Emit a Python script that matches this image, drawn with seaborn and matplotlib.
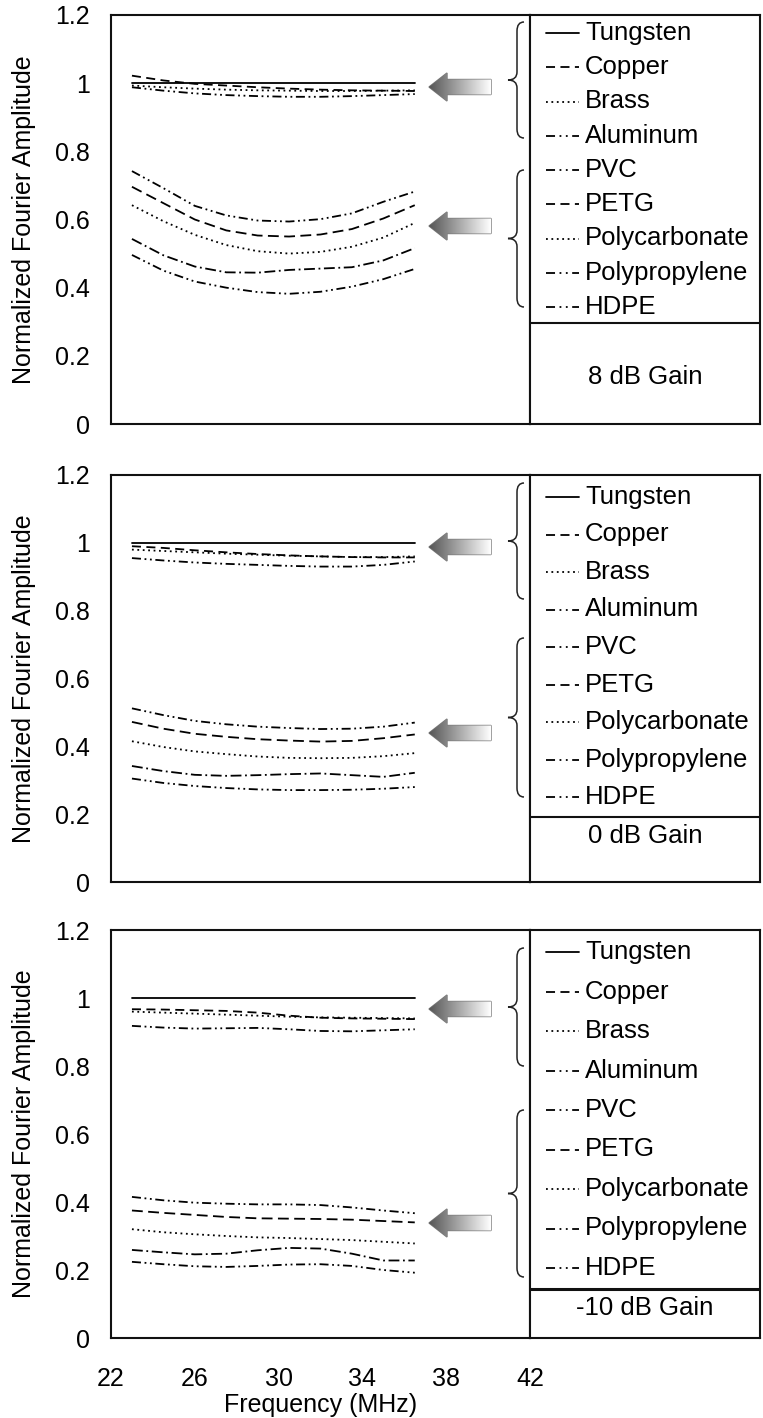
import numpy as np
import pandas as pd
import matplotlib
matplotlib.use("Agg")
import matplotlib.pyplot as plt
import seaborn as sns
from matplotlib.path import Path
from matplotlib.patches import PathPatch, Polygon
from matplotlib.colors import LinearSegmentedColormap
from matplotlib.ticker import MultipleLocator, FixedLocator

# ---------------------------------------------------------------- data
freq_mhz = [23.0, 24.5, 26.0, 27.5, 29.0, 30.5, 32.0, 33.5, 35.0, 36.5]

materials = ["Tungsten", "Copper", "Brass", "Aluminum", "PVC", "PETG",
             "Polycarbonate", "Polypropylene", "HDPE"]

gain_labels = ["8 dB Gain", "0 dB Gain", "-10 dB Gain"]

# 8 dB gain
g8_tungsten = [1.000, 1.000, 1.000, 1.000, 1.000, 1.000, 1.000, 1.000, 1.000, 1.000]
g8_copper = [1.022, 1.008, 0.998, 0.993, 0.988, 0.984, 0.981, 0.979, 0.978, 0.977]
g8_brass = [0.993, 0.988, 0.984, 0.981, 0.979, 0.978, 0.977, 0.977, 0.978, 0.979]
g8_aluminum = [0.988, 0.978, 0.970, 0.965, 0.962, 0.960, 0.960, 0.962, 0.965, 0.968]
g8_pvc = [0.742, 0.692, 0.640, 0.612, 0.597, 0.594, 0.601, 0.618, 0.652, 0.682]
g8_petg = [0.696, 0.648, 0.600, 0.568, 0.553, 0.550, 0.556, 0.572, 0.603, 0.642]
g8_polycarbonate = [0.642, 0.595, 0.555, 0.525, 0.507, 0.500, 0.505, 0.520, 0.547, 0.590]
g8_polypropylene = [0.543, 0.495, 0.462, 0.445, 0.444, 0.452, 0.456, 0.460, 0.480, 0.516]
g8_hdpe = [0.496, 0.450, 0.418, 0.400, 0.387, 0.382, 0.388, 0.403, 0.425, 0.455]

# 0 dB gain
g0_tungsten = [1.000, 1.000, 1.000, 1.000, 1.000, 1.000, 1.000, 1.000, 1.000, 1.000]
g0_copper = [0.990, 0.985, 0.978, 0.972, 0.967, 0.963, 0.960, 0.958, 0.957, 0.957]
g0_brass = [0.980, 0.976, 0.972, 0.968, 0.965, 0.962, 0.960, 0.958, 0.958, 0.960]
g0_aluminum = [0.955, 0.948, 0.942, 0.938, 0.935, 0.932, 0.930, 0.930, 0.935, 0.945]
g0_pvc = [0.512, 0.492, 0.475, 0.465, 0.458, 0.454, 0.451, 0.452, 0.458, 0.470]
g0_petg = [0.472, 0.452, 0.437, 0.428, 0.421, 0.417, 0.414, 0.416, 0.424, 0.435]
g0_polycarbonate = [0.415, 0.398, 0.385, 0.377, 0.370, 0.366, 0.365, 0.366, 0.371, 0.380]
g0_polypropylene = [0.342, 0.327, 0.316, 0.313, 0.315, 0.318, 0.320, 0.315, 0.310, 0.322]
g0_hdpe = [0.305, 0.292, 0.283, 0.277, 0.273, 0.271, 0.271, 0.272, 0.275, 0.280]

# -10 dB gain
gm10_tungsten = [1.000, 1.000, 1.000, 1.000, 1.000, 1.000, 1.000, 1.000, 1.000, 1.000]
gm10_copper = [0.967, 0.966, 0.964, 0.962, 0.957, 0.948, 0.942, 0.940, 0.939, 0.938]
gm10_brass = [0.960, 0.957, 0.954, 0.951, 0.948, 0.945, 0.943, 0.942, 0.941, 0.940]
gm10_aluminum = [0.918, 0.913, 0.910, 0.911, 0.912, 0.908, 0.903, 0.902, 0.905, 0.908]
gm10_pvc = [0.415, 0.405, 0.398, 0.395, 0.393, 0.393, 0.391, 0.384, 0.375, 0.367]
gm10_petg = [0.375, 0.368, 0.362, 0.356, 0.352, 0.351, 0.350, 0.348, 0.344, 0.340]
gm10_polycarbonate = [0.320, 0.311, 0.305, 0.300, 0.296, 0.294, 0.291, 0.288, 0.283, 0.278]
gm10_polypropylene = [0.259, 0.252, 0.246, 0.248, 0.258, 0.265, 0.263, 0.248, 0.228, 0.228]
gm10_hdpe = [0.224, 0.217, 0.211, 0.209, 0.212, 0.216, 0.217, 0.212, 0.200, 0.192]

panels = [
    [g8_tungsten, g8_copper, g8_brass, g8_aluminum, g8_pvc, g8_petg,
     g8_polycarbonate, g8_polypropylene, g8_hdpe],
    [g0_tungsten, g0_copper, g0_brass, g0_aluminum, g0_pvc, g0_petg,
     g0_polycarbonate, g0_polypropylene, g0_hdpe],
    [gm10_tungsten, gm10_copper, gm10_brass, gm10_aluminum, gm10_pvc, gm10_petg,
     gm10_polycarbonate, gm10_polypropylene, gm10_hdpe],
]

x_ticks = [22, 26, 30, 34, 38, 42]
y_ticks = [0, 0.2, 0.4, 0.6, 0.8, 1.0, 1.2]
y_tick_labels = ["0", "0.2", "0.4", "0.6", "0.8", "1", "1.2"]

# ---------------------------------------------------------------- style
sns.set_theme(style="white")
plt.rcParams["font.family"] = ["Liberation Sans", "DejaVu Sans"]
plt.rcParams.update({
    "text.color": "black",
    "axes.labelcolor": "black",
    "xtick.color": "black",
    "ytick.color": "black",
    "axes.edgecolor": "black",
})
FS = 18
FS_LEG = 18.5

dash_styles = {
    "Tungsten": "",
    "Copper": (5, 3),
    "Brass": (1, 2),
    "Aluminum": (5, 2, 1, 2, 1, 2),
    "PVC": (5, 2, 1, 2, 1, 2),
    "PETG": (6, 3),
    "Polycarbonate": (1, 2),
    "Polypropylene": (6, 2, 1, 2),
    "HDPE": (5, 2, 1, 2, 1, 2),
}
legend_dash = {
    "Tungsten": (None, None),
    "Copper": (0, (5, 3)),
    "Brass": (0, (1, 2)),
    "Aluminum": (0, (5, 2.5, 1, 2.5, 1, 2.5)),
    "PVC": (0, (5, 2.5, 1, 2.5, 1, 2.5)),
    "PETG": (0, (5, 3)),
    "Polycarbonate": (0, (1, 2)),
    "Polypropylene": (0, (5, 2.5, 1, 2.5, 1, 2.5)),
    "HDPE": (0, (5, 2.5, 1, 2.5, 1, 2.5)),
}

W, H = 763, 1418
fig = plt.figure(figsize=(W / 100, H / 100), dpi=100)

AX_L, AX_R, BOX_R = 111, 530, 760
panel_tb = [(15, 424), (475, 882), (930, 1338)]
divider_y = [323, 817, 1289]
gain_y = [377, 836, 1308]
legend_rows = [(33, 34.25), (497, 37.5), (952, 39.5)]
brace_spans = [((22, 138), (170, 307)), ((483, 599), (638, 797)),
               ((948, 1066), (1110, 1277))]
arrow_y = [(87, 226), (547, 733), (1009, 1223)]


def frac_rect(l, r, t, b):
    return [l / W, 1 - b / H, (r - l) / W, (b - t) / H]


overlay = fig.add_axes([0, 0, 1, 1], zorder=10)
overlay.set_xlim(0, W)
overlay.set_ylim(H, 0)
overlay.axis("off")
overlay.patch.set_alpha(0)

grad_cmap = LinearSegmentedColormap.from_list("arrowfill", ["#555555", "#ffffff"])


def draw_brace(x_tip, y0, y1):
    xb = x_tip + 9
    xe = x_tip + 16
    ym = (y0 + y1) / 2
    verts = [(xe, y0), (xb, y0), (xb, y0 + 9),
             (xb, ym - 8),
             (xb, ym), (x_tip, ym),
             (xb, ym), (xb, ym + 8),
             (xb, y1 - 9),
             (xb, y1), (xe, y1)]
    codes = [Path.MOVETO, Path.CURVE3, Path.CURVE3,
             Path.LINETO,
             Path.CURVE3, Path.CURVE3,
             Path.CURVE3, Path.CURVE3,
             Path.LINETO,
             Path.CURVE3, Path.CURVE3]
    overlay.add_patch(PathPatch(Path(verts, codes), fill=False, lw=1.1,
                                edgecolor="#222222"))


def draw_arrow(yc, x_tip=429, x_tail=491):
    xh = x_tip + 18
    pts = [(x_tip, yc), (xh, yc - 14), (xh, yc - 7.5), (x_tail, yc - 7.5),
           (x_tail, yc + 7.5), (xh, yc + 7.5), (xh, yc + 14)]
    poly = Polygon(pts, closed=True, facecolor="none", edgecolor="#7a7a7a", lw=1.0)
    overlay.add_patch(poly)
    grad = np.linspace(0, 1, 256).reshape(1, -1)
    im = overlay.imshow(grad, cmap=grad_cmap, aspect="auto",
                        extent=[x_tip, x_tail, yc + 14, yc - 14], zorder=1)
    im.set_clip_path(poly)


for k, series in enumerate(panels):
    top, bot = panel_tb[k]
    ax = fig.add_axes(frac_rect(AX_L, AX_R, top, bot))
    df = pd.DataFrame({
        "freq": np.tile(freq_mhz, len(materials)),
        "amp": np.concatenate(series),
        "material": np.repeat(materials, len(freq_mhz)),
    })
    sns.lineplot(data=df, x="freq", y="amp", style="material",
                 style_order=materials, dashes=dash_styles, color="black",
                 linewidth=1.3, estimator=None, sort=False, legend=False, ax=ax)

    ax.set_xlim(22, 42)
    ax.set_ylim(0, 1.2)
    ax.xaxis.set_major_locator(FixedLocator(x_ticks))
    ax.xaxis.set_minor_locator(MultipleLocator(2))
    ax.yaxis.set_major_locator(FixedLocator(y_ticks))
    ax.yaxis.set_minor_locator(MultipleLocator(0.1))
    ax.set_yticklabels(y_tick_labels)
    ax.tick_params(axis="both", which="both", direction="in", length=7,
                   width=1.1, color="#222222", top=False, right=False)
    ax.tick_params(axis="y", labelsize=FS, pad=15)
    ax.tick_params(axis="x", labelsize=FS, pad=21)
    for side in ["left", "bottom", "top", "right"]:
        ax.spines[side].set_linewidth(1.5)
        ax.spines[side].set_color("#111111")
    ax.set_ylabel("Normalized Fourier Amplitude", fontsize=FS, va="center")
    ax.yaxis.set_label_coords((24 - AX_L) / (AX_R - AX_L), 0.5)
    if k < 2:
        ax.set_xlabel("")
        ax.tick_params(axis="x", labelbottom=False)
    else:
        ax.set_xlabel("Frequency (MHz)", fontsize=FS, va="center")
        ax.xaxis.set_label_coords(0.5, (bot - 1405) / (bot - top))

    # legend box with the gain caption underneath
    box = fig.add_axes(frac_rect(AX_R, BOX_R, top, bot))
    box.set_xlim(0, 1)
    box.set_ylim(bot, top)
    box.set_xticks([])
    box.set_yticks([])
    for side in box.spines.values():
        side.set_linewidth(1.5)
        side.set_color("#111111")
    box.axhline(divider_y[k], color="#111111", lw=1.5 if k < 2 else 2.2)

    y0, dy = legend_rows[k]
    for i, name in enumerate(materials):
        yy = y0 + i * dy
        ls = legend_dash[name]
        overlay.plot([546, 579], [yy, yy], color="black", lw=1.3,
                     linestyle="-" if ls[0] is None else ls)
        overlay.text(585, yy, name, fontsize=FS_LEG, ha="left", va="center")
    overlay.text((AX_R + BOX_R) / 2, gain_y[k], gain_labels[k], fontsize=FS_LEG,
                 ha="center", va="center")

    for (b0, b1) in brace_spans[k]:
        draw_brace(508, b0, b1)
    for yc in arrow_y[k]:
        draw_arrow(yc)

fig.savefig("out.png", dpi=100)
